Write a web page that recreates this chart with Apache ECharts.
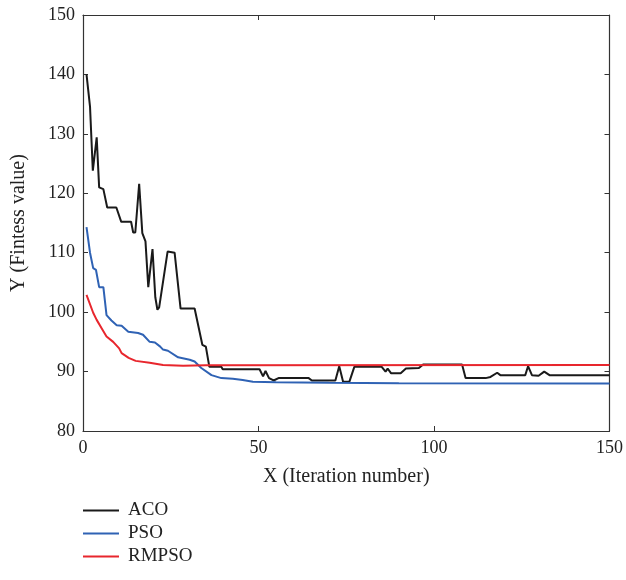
<!DOCTYPE html>
<html>
<head>
<meta charset="utf-8">
<script src="https://cdn.jsdelivr.net/npm/echarts@6/dist/echarts.min.js"></script>
<style>
  html, body { margin: 0; padding: 0; background: #fff; }
  #main { width: 626px; height: 580px; }
</style>
</head>
<body>
<div id="main"></div>
<script>
var seriesNames = ['ACO', 'PSO', 'RMPSO'];
var xTicks = [0, 50, 100, 150];
var yTicks = [80, 90, 100, 110, 120, 130, 140, 150];

// [iteration, fitness] break points
var aco = [[1,140],[2,134.6],[2.8,123.8],[3.9,129.4],[4.6,121],[5.8,120.7],[6.9,117.6],[9.5,117.6],
  [10.9,115.2],[13.7,115.2],[14.3,113.4],[14.9,113.4],[16,121.6],[16.9,113.3],[17.8,111.9],[18.6,104.2],
  [19.8,110.6],[20.6,102.5],[21.2,100.4],[21.7,100.8],[24.1,110.2],[26.1,110],[27.8,100.6],[31.8,100.6],
  [34,94.5],[35,94.2],[36,90.8],[39.4,90.8],[39.8,90.4],[50.3,90.4],[51.3,89.2],[52,90.1],[53,88.9],
  [54.3,88.5],[55.7,88.9],[64.3,88.9],[65.2,88.5],[71.9,88.5],[73,90.9],[74.1,88.3],[75.9,88.3],
  [77.3,90.8],[85.1,90.8],[86.2,90],[86.8,90.5],[87.8,89.7],[90.5,89.7],[92,90.5],[95.7,90.6],
  [96.9,91.2],[108,91.2],[109,88.9],[114.7,88.9],[116.1,89.1],[118,89.8],[118.9,89.4],[126,89.4],
  [126.8,90.9],[127.9,89.4],[129.8,89.3],[131.4,90],[132.9,89.4],[150,89.4]];

var pso = [[1,114.3],[2,110],[2.9,107.4],[3.7,107.1],[4.6,104.2],[5.8,104.2],[6.7,99.5],[8.1,98.6],
  [9.6,97.8],[11,97.7],[12.9,96.7],[15.7,96.5],[17.1,96.2],[19,95],[20.5,94.9],[22,94.2],[22.8,93.7],
  [24.2,93.5],[27.1,92.4],[30.4,92],[31.8,91.7],[33.7,90.6],[36.6,89.4],[39.4,88.9],[42.7,88.8],
  [45.5,88.6],[48.4,88.3],[55,88.2],[70,88.1],[90,88.05],[150,88]];

var rmpso = [[1,102.9],[2.9,99.9],[3.9,98.7],[5.3,97.3],[6.7,95.9],[8.6,95],[10.3,93.9],[11,93.1],
  [13,92.3],[15,91.8],[19,91.5],[22.8,91.1],[28.5,91],[35,91.05],[150,91.1]];

var chart = echarts.init(document.getElementById('main'));

var font = 'Liberation Serif';
var axisCol = '#333';

function xAxisCfg(pos, show) {
  return {
    type: 'value', position: pos, min: xTicks[0], max: xTicks[xTicks.length - 1], interval: 50,
    name: show ? 'X (Iteration number)' : '', nameLocation: 'middle', nameGap: 36,
    nameTextStyle: { fontFamily: font, fontSize: 20, color: '#222' },
    axisLine: { show: true, onZero: false, lineStyle: { color: axisCol, width: 1.2 } },
    axisTick: { show: true, inside: true, length: 5, lineStyle: { color: axisCol } },
    axisLabel: { show: show, fontFamily: font, fontSize: 18, color: '#222', margin: 8 },
    splitLine: { show: false }
  };
}
function yAxisCfg(pos, show) {
  return {
    type: 'value', position: pos, min: yTicks[0], max: yTicks[yTicks.length - 1], interval: 10,
    name: show ? 'Y (Fintess value)' : '', nameLocation: 'middle', nameGap: 54,
    nameTextStyle: { fontFamily: font, fontSize: 20, color: '#222' },
    axisLine: { show: true, onZero: false, lineStyle: { color: axisCol, width: 1.2 } },
    axisTick: { show: true, inside: true, length: 5, lineStyle: { color: axisCol } },
    axisLabel: { show: show, fontFamily: font, fontSize: 18, color: '#222', margin: 8 },
    splitLine: { show: false }
  };
}

var option = {
  animation: false,
  grid: { left: 83, top: 15, width: 528, height: 416 },
  legend: {
    orient: 'vertical', left: 78, top: 496,
    icon: 'rect', itemWidth: 36, itemHeight: 2, itemGap: 4,
    textStyle: { fontFamily: font, fontSize: 19, color: '#222', padding: [0, 0, 0, 4] },
    data: seriesNames
  },
  xAxis: [xAxisCfg('bottom', true), xAxisCfg('top', false)],
  yAxis: [yAxisCfg('left', true), yAxisCfg('right', false)],
  series: [
    { name: 'ACO', type: 'line', data: aco, showSymbol: false, lineStyle: { color: '#1a1a1a', width: 2 }, itemStyle: { color: '#1a1a1a' } },
    { name: 'PSO', type: 'line', data: pso, showSymbol: false, lineStyle: { color: '#2f62b4', width: 2 }, itemStyle: { color: '#2f62b4' } },
    { name: 'RMPSO', type: 'line', data: rmpso, showSymbol: false, lineStyle: { color: '#e8262d', width: 2 }, itemStyle: { color: '#e8262d' } }
  ]
};
chart.setOption(option);
</script>
</body>
</html>
